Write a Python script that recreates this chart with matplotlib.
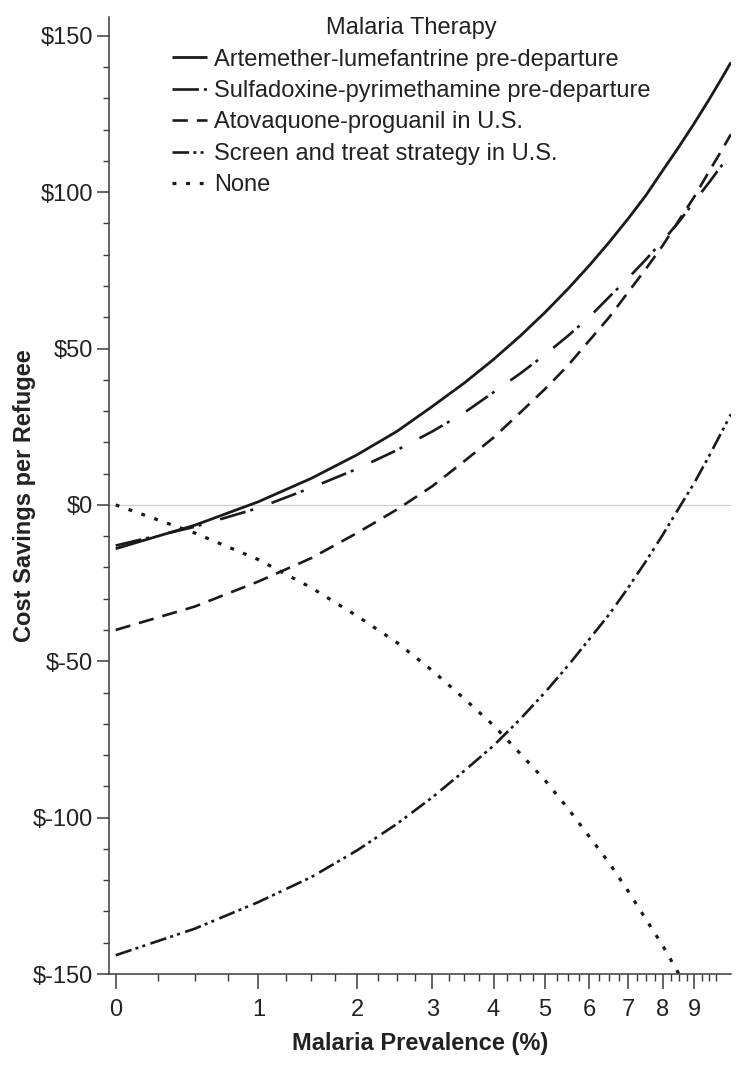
import numpy as np
import matplotlib
matplotlib.use('Agg')
import matplotlib.pyplot as plt
from matplotlib.ticker import FixedLocator

# fonts: Arial-like first, DejaVu as fallback
plt.rcParams['font.family'] = ['Liberation Sans', 'DejaVu Sans']
plt.rcParams['lines.scale_dashes'] = False

# values (cost savings per refugee, $), every 0.5 % prevalence
prevalence = [0, 0.5, 1, 1.5, 2, 2.5, 3, 3.5, 4, 4.5, 5, 5.5, 6, 6.5, 7, 7.5,
              8, 8.5, 9, 9.5, 10, 10.3]
artemether = [-14, -6.5, 1, 8.5, 16, 23.5, 31.5, 39, 46.5, 54, 61.5, 69, 76.5,
              84, 91.5, 99, 107, 114.5, 122, 129.5, 137, 141.5]
sulfadoxine = [-13, -7, -1, 5.5, 11.5, 17.5, 23.5, 29.5, 36, 42, 48, 54, 60,
               66.5, 72.5, 78.5, 84.5, 90.5, 97, 103, 109, 112.5]
atovaquone = [-40, -32.5, -24.5, -17, -9, -1.5, 6, 14, 21.5, 29.5, 37, 44.5,
              52.5, 60, 68, 75.5, 83, 91, 98.5, 106.5, 114, 118.5]
screen_treat = [-144, -135.5, -127, -119, -110.5, -102, -93.5, -85, -77, -68.5,
                -60, -51.5, -43, -35, -26.5, -18, -9.5, -1, 7, 15.5, 24, 29]

none_prev = [0, 0.5, 1, 1.5, 2, 2.5, 3, 3.5, 4, 4.5, 5, 5.5, 6, 6.5, 7, 7.5,
             8, 8.5, 9]
none_vals = [0, -9, -17.5, -26.5, -35.5, -44, -53, -62, -70.5, -79.5, -88, -97,
             -106, -114.5, -123.5, -132.5, -141, -150, -159]

series_names = ['Artemether-lumefantrine pre-departure',
                'Sulfadoxine-pyrimethamine pre-departure',
                'Atovaquone-proguanil in U.S.',
                'Screen and treat strategy in U.S.',
                'None']

x_ticks = [0, 1, 2, 3, 4, 5, 6, 7, 8, 9]
y_ticks = [-150, -100, -50, 0, 50, 100, 150]
y_tick_labels = ['$-150', '$-100', '$-50', '$0', '$50', '$100', '$150']

# line styles (on/off in points)
ink = '#1a1a1a'
styles = [
    dict(linestyle='-', lw=2.0),
    dict(dashes=(19, 3.6, 2.2, 14), lw=1.9),
    dict(dashes=(11, 6.5), lw=1.9),
    dict(dashes=(12, 3, 2.2, 3, 2.2, 4), lw=1.9),
    dict(dashes=(2.8, 7), lw=2.3),
]

# prevalence axis is compressed roughly like log(x + 1.8)
def fwd(x):
    return np.log10(np.asarray(x, dtype=float) + 1.8)

def inv(y):
    return 10 ** np.asarray(y, dtype=float) - 1.8

fig = plt.figure(figsize=(7.5, 10.68), dpi=100)
ax = fig.add_axes([0.1453, 0.0880, 0.8293, 0.8961])
ax.set_xscale('function', functions=(fwd, inv))

ax.axhline(0, color='#cfcfcf', lw=0.9, zorder=0)

all_x = [prevalence, prevalence, prevalence, prevalence, none_prev]
all_y = [artemether, sulfadoxine, atovaquone, screen_treat, none_vals]
for xs, ys, name, st in zip(all_x, all_y, series_names, styles):
    ax.plot(xs, ys, color=ink, label=name,
            dash_capstyle='butt', solid_capstyle='butt', **st)

ax.set_xlim(-0.037, 10.3)
ax.set_ylim(-150, 156)

# ticks
ax.xaxis.set_major_locator(FixedLocator(x_ticks))
ax.set_xticklabels([str(t) for t in x_ticks])
minor_x = [q / 4 for q in range(0, 41) if q % 4 != 0]
ax.xaxis.set_minor_locator(FixedLocator(minor_x))
ax.set_yticks(y_ticks)
ax.set_yticklabels(y_tick_labels)
ax.yaxis.set_minor_locator(FixedLocator([v for v in range(-150, 151, 10) if v % 50 != 0]))

spine_col = '#3a3a3a'
for side in ['top', 'right']:
    ax.spines[side].set_visible(False)
for side in ['left', 'bottom']:
    ax.spines[side].set_color(spine_col)
    ax.spines[side].set_linewidth(1.1)

ax.tick_params(axis='x', which='major', length=11, width=1.1, pad=7,
               labelsize=17, color=spine_col, labelcolor='#222222')
ax.tick_params(axis='x', which='minor', length=5, width=1.0, color=spine_col)
ax.tick_params(axis='y', which='major', length=8.5, width=1.1, pad=3,
               labelsize=17, color=spine_col, labelcolor='#222222')
ax.tick_params(axis='y', which='minor', length=4.5, width=1.0, color=spine_col)

ax.set_xlabel('Malaria Prevalence (%)', fontsize=17, fontweight='bold',
              color='#222222', labelpad=8)
ax.set_ylabel('Cost Savings per Refugee', fontsize=17, fontweight='bold',
              color='#222222', labelpad=-2)

leg = ax.legend(loc='upper left', bbox_to_anchor=(0.229, 0.984),
                bbox_transform=fig.transFigure, frameon=False,
                title='Malaria Therapy', fontsize=17, title_fontsize=17,
                handlelength=1.5, handletextpad=0.3, labelspacing=0.4,
                borderpad=0, borderaxespad=0)
for t in leg.get_texts():
    t.set_color('#222222')
leg.get_title().set_color('#222222')

fig.savefig('out.png', dpi=100, facecolor='white')
